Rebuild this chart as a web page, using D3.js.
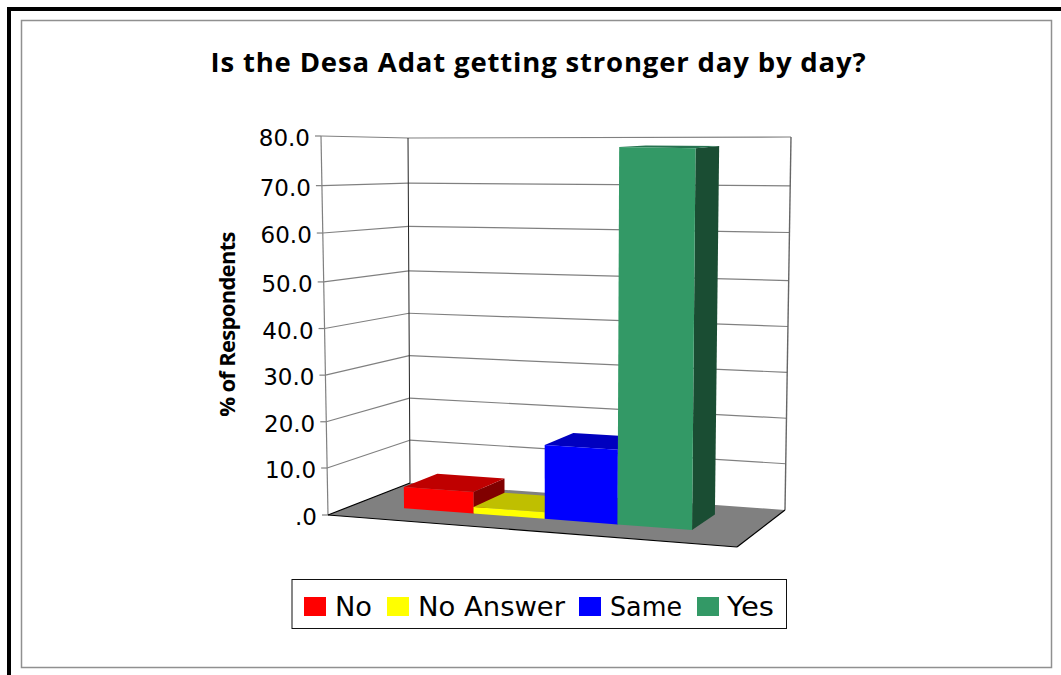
<!DOCTYPE html>
<html><head><meta charset="utf-8">
<script src="https://cdn.jsdelivr.net/npm/d3@7/dist/d3.min.js"></script>
<style>html,body{margin:0;padding:0;background:#fff}svg{display:block}</style>
</head><body><svg id="c" width="1061" height="675"></svg>
<script>
const categories = ["No","No Answer","Same","Yes"];
const values = [4.6,1.4,15.7,78.3];
const colors = ["#ff0000","#ffff00","#0000ff","#339966"];
const topColors = ["#bf0000","#bfbf00","#0000bf","#267350"];
const sideColors = ["#800000","#808000","#000080","#1a4d33"];
const ticks = [0,10,20,30,40,50,60,70,80];
const title = "Is the Desa Adat getting stronger day by day?";
const yTitle = "% of Respondents";

const svg = d3.select("#c");
svg.append("rect").attr("x",9).attr("y",9).attr("width",1080).attr("height",700).attr("fill","#fff").attr("stroke","#000").attr("stroke-width",4);
svg.append("rect").attr("x",21.5).attr("y",20.5).attr("width",1030).attr("height",647).attr("fill","#fff").attr("stroke","#909090").attr("stroke-width",1.5);

function quadMap(p00,p10,p11,p01){
  const dx1=p10[0]-p11[0],dx2=p01[0]-p11[0],dx3=p00[0]-p10[0]+p11[0]-p01[0];
  const dy1=p10[1]-p11[1],dy2=p01[1]-p11[1],dy3=p00[1]-p10[1]+p11[1]-p01[1];
  const den=dx1*dy2-dx2*dy1;
  const g=(dx3*dy2-dx2*dy3)/den,h=(dx1*dy3-dx3*dy1)/den;
  const a=p10[0]-p00[0]+g*p10[0],b=p01[0]-p00[0]+h*p01[0],c=p00[0];
  const d=p10[1]-p00[1]+g*p10[1],e=p01[1]-p00[1]+h*p01[1],f=p00[1];
  return (u,w)=>{const q=g*u+h*w+1;return [(a*u+b*w+c)/q,(d*u+e*w+f)/q];};
}
const floorMap = quadMap([328,515],[737,547],[785,510],[410,483]);
const off = {fl:[-7,-379],fr:[4.7,-404],br:[6,-373],bl:[-2,-345]};
const vScale = d3.scaleLinear().domain(ticks).range([0,.124,.246,.369,.492,.615,.744,.869,1]);
function P(u,val,w){
  const a=floorMap(u,w),t=vScale(val);
  const bil=k=>(off.fl[k]*(1-u)+off.fr[k]*u)*(1-w)+(off.bl[k]*(1-u)+off.br[k]*u)*w;
  return [a[0]+bil(0)*t,a[1]+bil(1)*t];
}
const line=d3.line();
const poly=(pts,fill,g)=>g.append("path").attr("d",line(pts)+"Z").attr("fill",fill);
const seg=(a,b,stroke,sw,g)=>g.append("line").attr("x1",a[0]).attr("y1",a[1]).attr("x2",b[0]).attr("y2",b[1]).attr("stroke",stroke).attr("stroke-width",sw);

const plot=svg.append("g");
ticks.forEach(t=>{
  const fl=P(0,t,0),bl=P(0,t,1),br=P(1,t,1);
  if(t>0){seg(fl,bl,"#808080",1.2,plot);seg(bl,br,"#808080",1.2,plot);}
  seg([fl[0]-6,fl[1]],fl,"#808080",1.2,plot);
  plot.append("text").attr("x",fl[0]-11).attr("y",fl[1]+10).attr("text-anchor","end")
    .attr("font-family","DejaVu Sans").attr("font-size",23).attr("fill","#000").text(t===0?".0":t.toFixed(1));
});
seg(P(0,0,0),P(0,80,0),"#808080",1.2,plot);
seg(P(0,0,1),P(0,80,1),"#222",1,plot);
seg(P(1,0,1),P(1,80,1),"#666",1.4,plot);
poly([P(0,0,0),P(1,0,0),P(1,0,1),P(0,0,1)],"#808080",plot);
seg(P(0,0,0),P(0,0,1),"#000",1.2,plot);
seg(P(0,0,0),P(1,0,0),"#000",1.2,plot);
seg(P(1,0,0),P(1,0,1),"#000",1.2,plot);

const x=d3.scaleBand().domain(categories).range([0.13,0.855]);
const w0=0.31,w1=0.74;
categories.forEach((c,i)=>{
  const u0=x(c),u1=u0+x.bandwidth(),v=values[i],g=plot.append("g");
  poly([P(u1,0,w0),P(u1,0,w1),P(u1,v,w1),P(u1,v,w0)],sideColors[i],g);
  poly([P(u0,v,w0),P(u1,v,w0),P(u1,v,w1),P(u0,v,w1)],topColors[i],g);
  poly([P(u0,0,w0),P(u1,0,w0),P(u1,v,w0),P(u0,v,w0)],colors[i],g);
});

svg.append("text").attr("x",538.5).attr("y",72).attr("text-anchor","middle")
  .attr("font-family","Open Sans").attr("font-weight",700).attr("font-size",27.5).attr("letter-spacing",0.83).attr("fill","#000").text(title);
svg.append("text").attr("transform","translate(235,324.5) rotate(-90)").attr("text-anchor","middle")
  .attr("font-family","Open Sans").attr("font-weight",700).attr("font-size",22).attr("letter-spacing",-0.7).attr("fill","#000").text(yTitle);

const lg=svg.append("g");
lg.append("rect").attr("x",292).attr("y",579.5).attr("width",494.5).attr("height",49).attr("fill","#fff").attr("stroke","#111").attr("stroke-width",1);
const swX=[304,387,579,697], txX=[335,418,610,727], txW=[37,147,72,47];
categories.forEach((c,i)=>{
  lg.append("rect").attr("x",swX[i]).attr("y",597).attr("width",22).attr("height",19).attr("fill",colors[i]);
  lg.append("text").attr("x",txX[i]).attr("y",616).attr("font-family","DejaVu Sans").attr("font-size",27).attr("textLength",txW[i]).attr("lengthAdjust","spacingAndGlyphs").attr("fill","#000").text(c);
});
</script></body></html>
